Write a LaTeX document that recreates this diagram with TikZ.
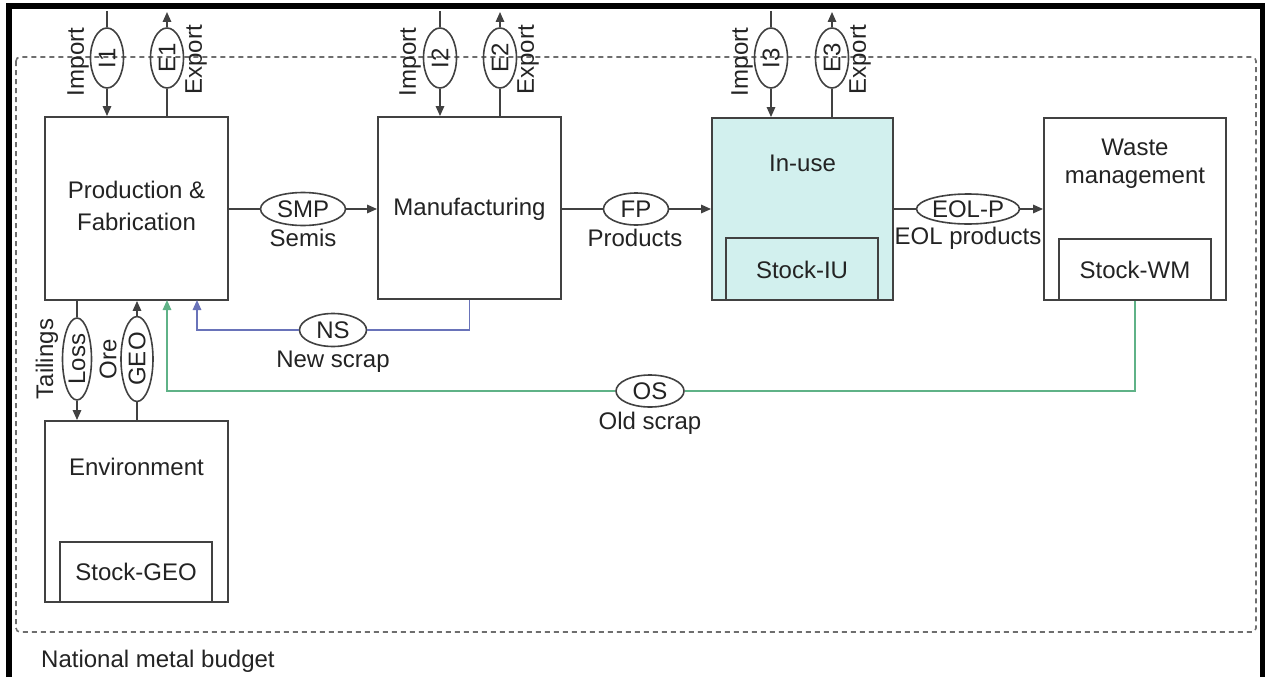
\documentclass[tikz,border=0pt]{standalone}
\usepackage{fontspec}
\setmainfont{Liberation Sans}
\usetikzlibrary{shapes.geometric,arrows.meta,calc}
\definecolor{ln}{RGB}{65,65,65}
\definecolor{txt}{RGB}{35,35,35}
\definecolor{inuse}{RGB}{210,240,238}
\definecolor{nsblue}{RGB}{105,115,185}
\definecolor{osgreen}{RGB}{95,178,135}
\definecolor{dashgray}{RGB}{110,110,110}
\begin{document}
\begin{tikzpicture}[x=1pt,y=1pt,
  font=\fontsize{24}{28}\selectfont, text=txt,
  box/.style={draw=ln, line width=1.9pt, rectangle, inner sep=0pt},
  flow/.style={draw=ln, line width=1.6pt, ellipse, inner sep=0pt},
  conn/.style={draw=ln, line width=1.6pt},
  tip/.style={-{Triangle[length=10pt,width=8.5pt]}},
  arr/.style={conn, tip},
  nsline/.style={draw=nsblue, line width=1.6pt},
  osline/.style={draw=osgreen, line width=1.6pt},
  lbl/.style={inner sep=0pt}]
\useasboundingbox (0,0) rectangle (1265,-677);
% outer frame
\draw[black, line width=6pt] (8.5,-677) -- (8.5,-6.5) -- (1263,-6.5) -- (1263,-677);
% system boundary
\draw[dashgray, line width=1.6pt, dash pattern=on 5pt off 4pt, rounded corners=4pt] (16,-57) rectangle (1256,-632);
\node[lbl, anchor=west] (nmb) at (41,-661) {National metal budget};

% main boxes
\node[box, minimum width=183pt, minimum height=183pt] (pf) at (136.5,-208.5) {};
\node[box, minimum width=183pt, minimum height=182pt] (mf) at (469.5,-208) {};
\node[box, fill=inuse, minimum width=181pt, minimum height=182pt] (iu) at (802.5,-209) {};
\node[box, minimum width=182pt, minimum height=182pt] (wm) at (1135,-209) {};
\node[box, minimum width=183pt, minimum height=181pt] (env) at (136.5,-511.5) {};
% stock boxes
\node[box, fill=inuse, minimum width=152pt, minimum height=62pt] (siu) at (802,-269) {};
\node[box, minimum width=152pt, minimum height=61pt] (swm) at (1135,-269.5) {};
\node[box, minimum width=152pt, minimum height=60pt] (sgeo) at (136,-572) {};

% box texts
\node[lbl, align=center, font=\fontsize{24}{32}\selectfont] (tpf) at (136.5,-206) {Production \&\\Fabrication};
\node[lbl] (tmf) at (469.5,-209) {Manufacturing};
\node[lbl] (tiu) at (802.5,-163) {In-use};
\node[lbl] (tsiu) at (802,-270) {Stock-IU};
\node[lbl, align=center, font=\fontsize{24}{28}\selectfont] (twm) at (1135,-164) {Waste\\management};
\node[lbl] (tswm) at (1135,-270) {Stock-WM};
\node[lbl] (tenv) at (136.5,-467) {Environment};
\node[lbl] (tsgeo) at (136,-572) {Stock-GEO};

% import / export ellipses
\foreach \n/\t/\xx in {i1/I1/107, i2/I2/440, i3/I3/771}{
  \node[flow, rotate=90, minimum width=60pt, minimum height=33pt] (\n) at (\xx,-58) {\t};
  \coordinate (\n s) at (\xx,-11);
}
\foreach \n/\t/\xx in {e1/E1/167, e2/E2/500, e3/E3/832}{
  \node[flow, rotate=90, minimum width=60pt, minimum height=33pt] (\n) at (\xx,-58) {\t};
  \coordinate (\n t) at (\xx,-12);
}
\draw[conn] (i1s) -- (i1); \draw[arr] (i1) -- (pf.north -| i1);
\draw[conn] (i2s) -- (i2); \draw[arr] (i2) -- (mf.north -| i2);
\draw[conn] (i3s) -- (i3); \draw[arr] (i3) -- (iu.north -| i3);
\draw[conn] (pf.north -| e1) -- (e1); \draw[arr] (e1) -- (e1t);
\draw[conn] (mf.north -| e2) -- (e2); \draw[arr] (e2) -- (e2t);
\draw[conn] (iu.north -| e3) -- (e3); \draw[arr] (e3) -- (e3t);
\node[lbl, rotate=90] (li1) at (78,-62) {Import};
\node[lbl, rotate=90] (le1) at (196,-60) {Export};
\node[lbl, rotate=90] (li2) at (410,-62) {Import};
\node[lbl, rotate=90] (le2) at (528,-60) {Export};
\node[lbl, rotate=90] (li3) at (742,-62) {Import};
\node[lbl, rotate=90] (le3) at (860,-60) {Export};

% horizontal flows
\node[flow, minimum width=85pt, minimum height=33pt] (smp) at (303,-209) {SMP};
\node[flow, minimum width=65pt, minimum height=32pt] (fp) at (636,-209) {FP};
\node[flow, minimum width=103pt, minimum height=30pt] (eol) at (968,-209) {EOL-P};
\draw[conn] (pf.east |- smp) -- (smp); \draw[arr] (smp) -- (mf.west |- smp);
\draw[conn] (mf.east |- fp) -- (fp); \draw[arr] (fp) -- (iu.west |- fp);
\draw[conn] (iu.east |- eol) -- (eol); \draw[arr] (eol) -- (wm.west |- eol);
\node[lbl] (lsemis) at (303,-238) {Semis};
\node[lbl] (lprod) at (635,-238) {Products};
\node[lbl] (leol) at (968,-238) {EOL products};

% environment flows
\node[flow, rotate=90, minimum width=82pt, minimum height=29pt] (loss) at (77,-359) {Loss};
\node[flow, rotate=90, minimum width=85pt, minimum height=32pt] (geo) at (137,-359) {GEO};
\draw[conn] (pf.south -| loss) -- (loss); \draw[arr] (loss) -- (env.north -| loss);
\draw[conn] (env.north -| geo) -- (geo); \draw[arr] (geo) -- (pf.south -| geo);
\node[lbl, rotate=90] (ltail) at (47,-359) {Tailings};
\node[lbl, rotate=90] (lore) at (108,-359) {Ore};

% new scrap
\node[flow, minimum width=67pt, minimum height=33pt] (ns) at (333,-330) {NS};
\coordinate (nsin) at (197,-300);
\draw[nsline] (mf.south) |- (ns);
\draw[nsline, tip] (ns) -| (nsin);
\node[lbl] (lns) at (333,-362) {New scrap};

% old scrap
\node[flow, minimum width=68pt, minimum height=32pt] (os) at (650,-391) {OS};
\coordinate (osin) at (167,-300);
\draw[osline] (swm.south) |- (os);
\draw[osline, tip] (os) -| (osin);
\node[lbl] (los) at (650,-423) {Old scrap};
\end{tikzpicture}
\end{document}
